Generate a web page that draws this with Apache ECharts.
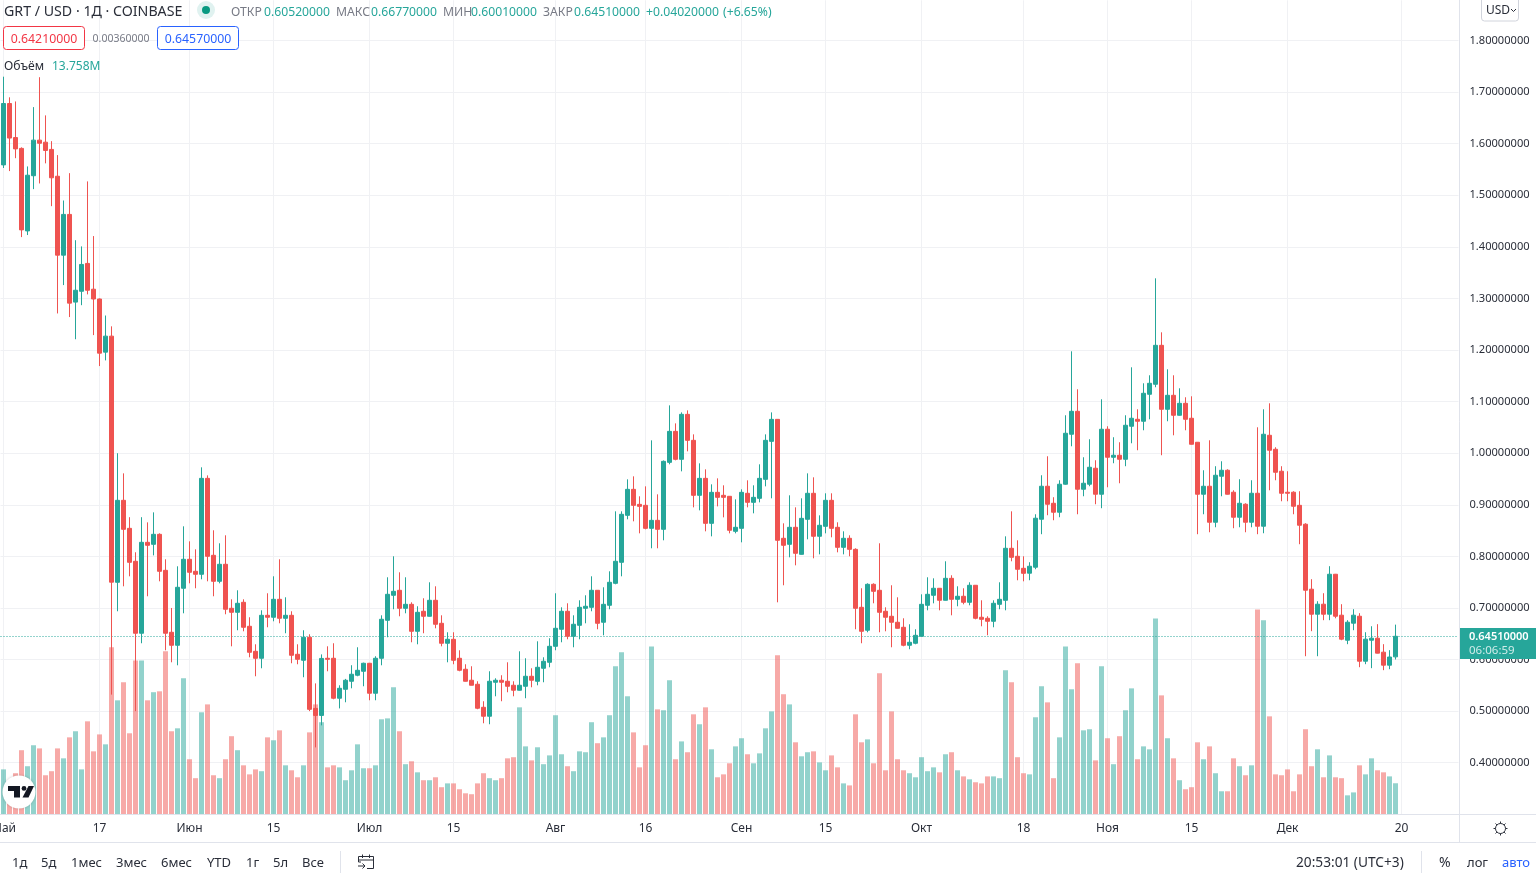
<!DOCTYPE html>
<html lang="ru">
<head>
<meta charset="utf-8">
<title>GRT / USD · 1Д · COINBASE</title>
<script src="https://cdn.jsdelivr.net/npm/echarts@6/dist/echarts.min.js"></script>
<style>
  html, body { margin: 0; padding: 0; background: #fff; overflow: hidden; }
  #chart { width: 1536px; height: 873px; }
</style>
</head>
<body>
<div id="chart"></div>
<script>
// Daily GRT/USD candles, 1 May – 19 Dec 2021
const opens = [
  1.559,1.678,1.612,1.591,1.431,1.538,1.607,1.603,1.589,1.537,
  1.384,1.463,1.293,1.314,1.368,1.318,1.299,1.196,1.227,.7498,
  .9087,.8544,.7905,.651,.8273,.8234,.8428,.773,.6529,.6277,
  .7382,.7944,.7711,.7653,.9513,.8021,.7517,.7847,.6994,.6916,
  .711,.6645,.616,.6025,.6858,.682,.7168,.68,.6858,.6102,
  .5986,.6432,.5053,.4917,.6025,.6025,.525,.5424,.5579,.5696,
  .5773,.5928,.5347,.6025,.6761,.7246,.7343,.6994,.7071,.6548,
  .6936,.6839,.7149,.6703,.6316,.6393,.6025,.5812,.5599,.5521,
  .5075,.4901,.556,.5599,.5579,.5502,.5405,.5482,.5676,.5579,
  .5831,.5947,.6257,.6587,.6936,.6451,.6664,.6994,.7013,.7343,
  .6723,.7052,.7478,.7885,.8796,.93,.9009,.899,.8544,.8699,
  .8525,.9823,1.0424,.9882,1.0754,1.025,.9184,.9513,.8641,.9242,
  .9184,.9165,.8486,.8544,.9223,.9048,.9126,.9494,1.023,1.0657,
  .8351,.8234,.8564,.804,.8719,.9223,.839,.8583,.9087,.8564,
  .8176,.8351,.8137,.7013,.6568,.7459,.7343,.6936,.6839,.6723,
  .6626,.6277,.6316,.6451,.7052,.7246,.7382,.7149,.7575,.7168,
  .7227,.711,.744,.682,.68,.6742,.7071,.7149,.8157,.8002,
  .7769,.7674,.779,.872,.936,.903,.8856,.9399,1.0368,1.0813,
  .9302,.9399,.9709,.9205,1.0465,.9922,.9961,.9883,1.0523,1.0658,
  1.062,1.1143,1.1337,1.2092,1.0852,1.1123,1.0736,1.0968,1.0678,1.0213,
  .9205,.936,.8662,.9554,.967,.9244,.8759,.9011,.8662,.9224,
  .8585,1.0348,1.0077,.9651,.9244,.9244,.899,.8624,.7364,.6879,
  .7073,.6879,.7654,.686,.6375,.6705,.684,.5968,.6375,.6414,.6143,.5891,.6052
];
const closes = [
  1.678,1.611,1.590,1.433,1.539,1.607,1.601,1.587,1.534,1.384,
  1.463,1.291,1.316,1.366,1.316,1.299,1.194,1.227,.750,.9087,
  .8525,.7885,.651,.8273,.8215,.8428,.7711,.651,.6277,.7401,
  .7944,.7692,.7653,.9513,.8002,.7517,.7847,.6975,.6916,.7091,
  .6626,.6141,.6025,.6858,.682,.7168,.68,.6858,.6083,.6005,
  .6432,.5035,.4917,.6022,.6005,.525,.5443,.5599,.5715,.5792,
  .5928,.5347,.6025,.6781,.7265,.7323,.6994,.7071,.6548,.6916,
  .6839,.7149,.6684,.6316,.6393,.5986,.5792,.5579,.5502,.5056,
  .4901,.5579,.5599,.556,.5482,.5405,.5502,.5676,.5599,.585,
  .5967,.6257,.6606,.6936,.6451,.6684,.7013,.7033,.7343,.6703,
  .7071,.7498,.7905,.8816,.93,.899,.897,.8544,.8699,.8525,
  .9843,1.0424,.9882,1.0754,1.025,.9184,.9513,.8641,.9242,.9145,
  .9145,.8506,.8564,.9242,.9048,.9145,.9513,1.025,1.0657,.8312,
  .8215,.8564,.806,.8738,.9223,.839,.8603,.9087,.8544,.8176,
  .8351,.8137,.6994,.6548,.7459,.7323,.6916,.682,.6723,.6606,
  .6277,.6335,.647,.7071,.7265,.7382,.7149,.7575,.7168,.7227,
  .711,.744,.68,.678,.6742,.7091,.7168,.8157,.7982,.775,
  .7672,.7809,.874,.936,.9011,.8856,.9399,1.0387,1.0813,.9302,
  .9418,.9728,.9205,1.0465,.9922,.9961,.9883,1.0542,1.0678,1.062,
  1.1162,1.1356,1.2092,1.0852,1.1123,1.0736,1.0968,1.0658,1.0174,.9205,
  .936,.8662,.9573,.967,.9205,.8759,.903,.8662,.9224,.8585,
  1.0368,1.0058,.9631,.9224,.9224,.8972,.8604,.7344,.6879,.7073,
  .6879,.7654,.684,.6395,.6724,.686,.5968,.6395,.6414,.6124,.5891,.6049,.6451
];
const lows = [
  1.553,1.547,1.572,1.419,1.423,1.512,1.523,1.562,1.479,1.271,
  1.326,1.264,1.221,1.287,1.308,1.229,1.169,1.180,.532,.6936,
  .742,.7614,.50,.6316,.7227,.802,.7517,.618,.5947,.5889,
  .6897,.7478,.7382,.7556,.7517,.7227,.7478,.6878,.6257,.6568,
  .6548,.6044,.5676,.5831,.6626,.6742,.6703,.651,.5928,.5909,
  .5657,.50,.4297,.4724,.5773,.523,.5053,.5172,.5443,.5676,
  .5482,.5211,.5211,.5889,.6432,.6975,.6839,.6897,.6335,.6296,
  .651,.6835,.6606,.6257,.5947,.5909,.5773,.5575,.55,.5037,
  .4765,.4746,.5288,.5192,.5366,.5288,.54,.525,.5463,.5501,
  .556,.585,.618,.6335,.6393,.6238,.6393,.6703,.6936,.6587,
  .647,.6975,.7459,.7614,.8719,.868,.8447,.8525,.8157,.8157,
  .8312,.9785,.9862,.9649,1.0037,.8951,.8893,.8486,.8389,.897,
  .8757,.8447,.8447,.8273,.8951,.8835,.9048,.9358,.9126,.711,
  .744,.7982,.7827,.8035,.8331,.7963,.804,.8447,.837,.8079,
  .804,.8002,.6587,.6316,.6529,.7091,.6529,.6548,.6238,.6602,
  .6257,.62,.6296,.6447,.6955,.709,.6955,.7145,.6858,.7033,
  .7071,.7052,.678,.6645,.6471,.6626,.6975,.6955,.7905,.7537,
  .7517,.7538,.7751,.843,.8798,.8701,.8759,.939,1.0135,.8817,
  .9166,.936,.9011,.8934,.934,.9806,.9418,.9748,1.0193,1.0058,
  1.0445,1.0658,1.1279,.9961,1.062,1.0348,1.073,1.0445,1.017,.843,
  .8817,.8468,.8565,.9166,.92,.8546,.8565,.8468,.8565,.843,
  .8449,.9282,.9476,.9069,.9069,.8817,.8236,.6065,.655,.6065,
  .6763,.6763,.68,.6375,.6298,.6569,.5852,.591,.5833,.612,.5794,.5813,.6001
];
const highs = [
  1.73,1.690,1.682,1.593,1.556,1.671,1.729,1.655,1.605,1.578,
  1.490,1.543,1.413,1.401,1.527,1.421,1.300,1.267,1.246,1.0,
  .961,.876,.808,.876,.866,.8854,.8447,.7944,.7,.7808,
  .8583,.8292,.8137,.9727,.9571,.8506,.8254,.8409,.7168,.7343,
  .7168,.682,.6296,.6955,.7285,.7614,.7944,.7207,.6936,.6296,
  .6568,.649,.5538,.610,.6257,.6316,.5501,.5625,.589,.6238,
  .594,.5935,.6064,.6858,.7595,.8002,.7692,.7595,.711,.7033,
  .7188,.7498,.742,.6858,.6529,.6529,.618,.5909,.587,.5579,
  .5192,.5773,.5637,.5696,.5947,.5579,.616,.6025,.5831,.6354,
  .6044,.6413,.7285,.7013,.7091,.6858,.7149,.7246,.7614,.7347,
  .7401,.7711,.8874,.8874,.9494,.9552,.9165,.9358,1.025,.9203,
  .986,1.0928,1.0579,1.0792,1.0831,1.0366,.9804,.9688,.9397,.9513,
  .9378,.917,.9106,.93,.9475,.9378,.9785,1.0366,1.0792,1.066,
  .8641,.9184,.8951,.9126,.961,.9533,.8796,.9223,.9223,.8661,
  .8486,.8409,.8157,.7382,.7478,.7478,.8254,.7013,.744,.7207,
  .68,.6684,.6587,.7265,.7595,.7575,.7385,.7905,.7634,.742,
  .7382,.7498,.7445,.7149,.6839,.7149,.7498,.8389,.8874,.8312,
  .8002,.7887,.8817,.9573,.9941,.9147,.9476,1.0736,1.1976,1.124,
  .9922,1.0271,.9864,1.1046,1.0523,1.031,1.0213,1.0736,1.1666,1.0852,
  1.1356,1.1511,1.3391,1.2344,1.1627,1.1511,1.1259,1.1085,1.1104,1.0217,
  .967,1.0251,.9748,.9844,.9689,.9282,.9496,.903,.9476,1.0503,
  1.0852,1.0968,1.0116,.9748,.9651,.9263,.9263,.8643,.7558,.7131,
  .7286,.781,.766,.7073,.6763,.6976,.6899,.653,.6646,.6686,.6298,.6182,.6677
];
// Daily traded volume, millions of GRT
const volumes = [
  19.9,14.3,18.2,28.4,21.3,30.6,29.2,17.3,19.1,29.2,
  24.8,34.1,36.8,19.9,41.2,27.9,35.4,31.0,74.0,50.5,
  58.5,35.9,68.2,68.2,50.5,54.1,54.5,72.2,36.8,38.1,
  60.3,24.4,16.0,45.2,48.7,17.3,16.0,24.4,34.6,28.4,
  21.7,17.7,19.9,19.1,34.1,32.8,37.2,21.7,19.5,16.4,
  21.7,36.3,48.7,40.8,20.8,21.7,20.8,15.1,19.5,31.0,
  20.4,20.4,21.7,42.1,42.5,56.3,36.8,22.2,23.5,18.6,
  15.1,15.1,16.4,12.0,13.7,13.7,11.1,9.3,8.9,13.7,
  18.2,16.0,15.1,16.0,24.8,25.3,47.4,30.1,23.9,29.7,
  22.2,26.1,43.9,26.6,21.3,19.1,27.9,27.5,40.8,31.5,
  34.1,43.9,65.6,71.8,52.3,36.3,20.8,30.6,74.4,46.5,
  46.1,59.4,24.4,32.3,27.5,44.3,39.9,47.4,28.8,16.4,
  17.7,22.6,30.1,33.7,26.6,22.6,27.0,38.1,45.6,70.5,
  53.2,48.7,31.9,25.7,27.5,27.9,23.0,19.5,26.1,20.8,
  13.7,12.8,44.3,31.9,33.2,22.6,62.5,19.5,45.6,24.4,
  19.5,18.2,16.4,25.3,19.1,20.8,18.6,26.6,27.5,19.5,
  16.8,15.5,14.2,13.7,16.8,16.8,16.0,63.8,58.5,25.3,
  18.2,17.7,43.0,56.7,49.6,16.0,34.1,74.4,55.4,66.9,
  37.2,37.7,23.9,65.6,33.7,22.2,34.6,46.1,55.8,24.4,
  30.1,28.8,86.8,52.7,33.7,24.8,15.1,11.1,12.0,31.9,
  24.4,30.1,18.2,10.2,10.2,24.8,21.3,17.3,21.7,90.8,
  86.0,43.4,17.7,17.3,19.9,10.2,17.7,37.7,21.3,28.8,
  16.4,26.1,16.4,16.0,8.4,9.7,21.7,17.7,24.8,19.5,18.6,16.8,13.758
];
// Time-axis ticks: the day they fall on and the text printed under it
const tickDays = ['2021-05-01','2021-05-17','2021-06-01','2021-06-15','2021-07-01','2021-07-15','2021-08-01','2021-08-16','2021-09-01','2021-09-15','2021-10-01','2021-10-18','2021-11-01','2021-11-15','2021-12-01','2021-12-20'];
const tickLabels = ['Май','17','Июн','15','Июл','15','Авг','16','Сен','15','Окт','18','Ноя','15','Дек','20'];
const priceTicks = ['0.40000000','0.50000000','0.60000000','0.70000000','0.80000000','0.90000000','1.00000000','1.10000000','1.20000000','1.30000000','1.40000000','1.50000000','1.60000000','1.70000000','1.80000000'];
const rangeButtons = [['1д',12],['5д',41],['1мес',71],['3мес',116],['6мес',161],['YTD',207],['1г',246],['5л',273],['Все',302]];

const UP = '#26a69a', DOWN = '#ef5350', INK = '#2a2e39', MUTED = '#787b86', BLUE = '#2962ff', RULE = '#e0e3eb', GRID = '#f0f1f4';
const FONT = '"Noto Sans", "Open Sans", sans-serif';

// The day slots run on past the last candle to leave the empty right margin
const SLOT_COUNT = 243;
const categories = Array.from({ length: SLOT_COUNT }, (_, i) => new Date(Date.UTC(2021, 4, 1 + i)).toISOString().slice(0, 10));
const tickText = new Map(tickDays.map((d, i) => [d, tickLabels[i]]));
const isTick = (index, value) => tickText.has(value);

const candleData = opens.map((o, i) => [o, closes[i], lows[i], highs[i]]);
const volumeData = volumes.map((v, i) => ({
  value: v,
  itemStyle: { color: closes[i] >= opens[i] ? 'rgba(38,166,154,.5)' : 'rgba(239,83,80,.5)' }
}));

function text(str, x, y, fill, size, extra) {
  return { type: 'text', silent: true, z: 20, style: Object.assign({ text: str, x, y: y + 1, fill, font: `${size}px ${FONT}`, textAlign: 'left', textVerticalAlign: 'middle' }, extra || {}) };
}
function box(x, y, width, height, stroke, fill, r) {
  return { type: 'rect', silent: true, z: 19, shape: { x, y, width, height, r: r || 0 }, style: { stroke: stroke || null, fill: fill || null, lineWidth: 1 } };
}
function line(x1, y1, x2, y2, stroke) {
  return { type: 'line', silent: true, z: 19, shape: { x1, y1, x2, y2 }, style: { stroke: stroke || RULE, lineWidth: 1 } };
}
function poly(points, stroke) {
  return { type: 'polyline', silent: true, z: 21, shape: { points }, style: { stroke: stroke || INK, lineWidth: 1, fill: null } };
}
function solid(points, fill) {
  return { type: 'polygon', silent: true, z: 22, shape: { points }, style: { fill: fill || '#131722' } };
}

const gearTicks = [[0,-7,0,-5],[0,5,0,7],[-7,0,-5,0],[5,0,7,0],[-5,-5,-3.6,-3.6],[3.6,3.6,5,5],[-5,5,-3.6,3.6],[3.6,-3.6,5,-5]]
  .map(t => line(1500.5 + t[0], 828.5 + t[1], 1500.5 + t[2], 828.5 + t[3], INK));

const overlay = [
  // Frame of the panes
  line(1459.5, 0, 1459.5, 842.5),
  line(0, 814.5, 1536, 814.5),
  line(0, 842.5, 1536, 842.5),
  // Symbol header
  text('GRT / USD · 1Д · COINBASE', 4, 11, INK, 14.2),
  { type: 'circle', silent: true, z: 19, shape: { cx: 206, cy: 10, r: 9 }, style: { fill: '#e0f2f0' } },
  { type: 'circle', silent: true, z: 20, shape: { cx: 206, cy: 10, r: 4 }, style: { fill: '#089981' } },
  text('ОТКР', 231, 12, MUTED, 12.2), text('0.60520000', 264, 12, UP, 12.2),
  text('МАКС', 336, 12, MUTED, 12.2), text('0.66770000', 371, 12, UP, 12.2),
  text('МИН', 443, 12, MUTED, 12.2), text('0.60010000', 471, 12, UP, 12.2),
  text('ЗАКР', 543, 12, MUTED, 12.2), text('0.64510000', 574, 12, UP, 12.2),
  text('+0.04020000', 646, 12, UP, 12.2), text('(+6.65%)', 723, 12, UP, 12.2),
  // Bid / spread / ask
  box(3.5, 26.5, 81, 23, '#f23645', '#fff', 3),
  text('0.64210000', 44, 38, '#f23645', 12.3, { textAlign: 'center' }),
  text('0.00360000', 121, 38, MUTED, 10.5, { textAlign: 'center' }),
  box(157.5, 26.5, 81, 23, BLUE, '#fff', 3),
  text('0.64570000', 198, 38, BLUE, 12.3, { textAlign: 'center' }),
  // Volume legend
  text('Объём', 4, 66, INK, 12.2),
  text('13.758M', 52, 66, UP, 12),
  // Currency selector
  box(1481.5, -3, 37, 24, '#d1d4dc', '#fff', 3),
  text('USD', 1486, 9.5, INK, 12),
  poly([[1511, 9], [1513.5, 11.5], [1516, 9]]),
  // Last price tag
  box(1460, 628, 76, 31, null, UP),
  text('0.64510000', 1469, 635.5, '#fff', 11.5, { font: `600 11px ${FONT}` }),
  text('06:06:59', 1469, 649.5, 'rgba(255,255,255,.78)', 11.5),
  // Settings gear
  { type: 'circle', silent: true, z: 20, shape: { cx: 1500.5, cy: 828.5, r: 5 }, style: { stroke: INK, fill: null, lineWidth: 1 } },
  ...gearTicks,
  // Bottom toolbar
  ...rangeButtons.map(b => text(b[0], b[1], 862, INK, 13)),
  line(340.5, 851, 340.5, 873),
  poly([[361, 862], [360, 862], [358.5, 862], [358.5, 856.5], [373.5, 856.5], [373.5, 868.5], [367, 868.5]]),
  poly([[358.5, 860], [373.5, 860]]),
  poly([[362.5, 854.5], [362.5, 858]]),
  poly([[369.5, 854.5], [369.5, 858]]),
  poly([[358, 866], [365, 866]]),
  poly([[362.5, 863.5], [365, 866], [362.5, 868.5]]),
  text('20:53:01 (UTC+3)', 1296, 862, INK, 13.7),
  line(1421.5, 851, 1421.5, 873),
  text('%', 1439, 862, INK, 14),
  text('лог', 1467, 862, INK, 13),
  text('авто', 1502, 862, BLUE, 13),
  // Exchange badge over the volume bars
  { type: 'circle', silent: true, z: 21, shape: { cx: 19, cy: 792, r: 16.5 }, style: { fill: '#fff', shadowBlur: 3, shadowColor: 'rgba(0,0,0,.2)' } },
  solid([[8, 786], [20, 786], [20, 797.5], [14, 797.5], [14, 791], [8, 791]]),
  { type: 'circle', silent: true, z: 22, shape: { cx: 24, cy: 788.4, r: 2.4 }, style: { fill: '#131722' } },
  solid([[28.5, 786], [34, 786], [28.5, 797.5], [22.5, 797.5]])
];

const chart = echarts.init(document.getElementById('chart'), null, { renderer: 'canvas', width: 1536, height: 873 });
chart.setOption({
  animation: false,
  backgroundColor: '#fff',
  textStyle: { fontFamily: FONT },
  // The first month label is allowed to run off the left edge
  grid: { left: 0.5, top: 0.3, width: 1458, height: 814, containLabel: false, outerBoundsMode: 'none' },
  xAxis: {
    type: 'category',
    data: categories,
    boundaryGap: true,
    axisLine: { show: false },
    axisTick: { show: false },
    splitLine: { show: true, alignWithLabel: true, interval: isTick, lineStyle: { color: GRID, width: 1 } },
    axisLabel: {
      interval: isTick,
      margin: 8.5,
      color: INK,
      fontFamily: FONT,
      fontSize: 12,
      formatter: value => tickText.get(value) || ''
    }
  },
  yAxis: [
    {
      type: 'value',
      position: 'right',
      min: 0.3,
      max: 1.8781,
      interval: 0.1,
      axisLine: { show: false },
      axisTick: { show: false },
      splitLine: { show: true, showMinLine: false, showMaxLine: false, lineStyle: { color: GRID, width: 1 } },
      axisLabel: {
        margin: 11,
        color: INK,
        fontFamily: FONT,
        fontSize: 11.1,
        showMinLabel: false,
        showMaxLabel: false,
        formatter: v => { const s = v.toFixed(8); return priceTicks.includes(s) ? s : ''; }
      }
    },
    { type: 'value', show: false, min: 0, max: 360.7 }
  ],
  series: [
    {
      type: 'bar',
      name: 'Объём',
      yAxisIndex: 1,
      data: volumeData,
      barWidth: 5,
      z: 1,
      silent: true
    },
    {
      type: 'candlestick',
      name: 'GRT/USD',
      yAxisIndex: 0,
      data: candleData,
      barWidth: 4,
      z: 3,
      silent: true,
      itemStyle: { color: UP, color0: DOWN, borderColor: UP, borderColor0: DOWN, borderWidth: 1 },
      markLine: {
        silent: true,
        symbol: 'none',
        animation: false,
        precision: 8,
        z: 2,
        label: { show: false },
        lineStyle: { color: UP, type: [1, 2], width: 1 },
        data: [{ yAxis: closes[closes.length - 1] }]
      }
    }
  ],
  graphic: { elements: overlay }
});
</script>
</body>
</html>
